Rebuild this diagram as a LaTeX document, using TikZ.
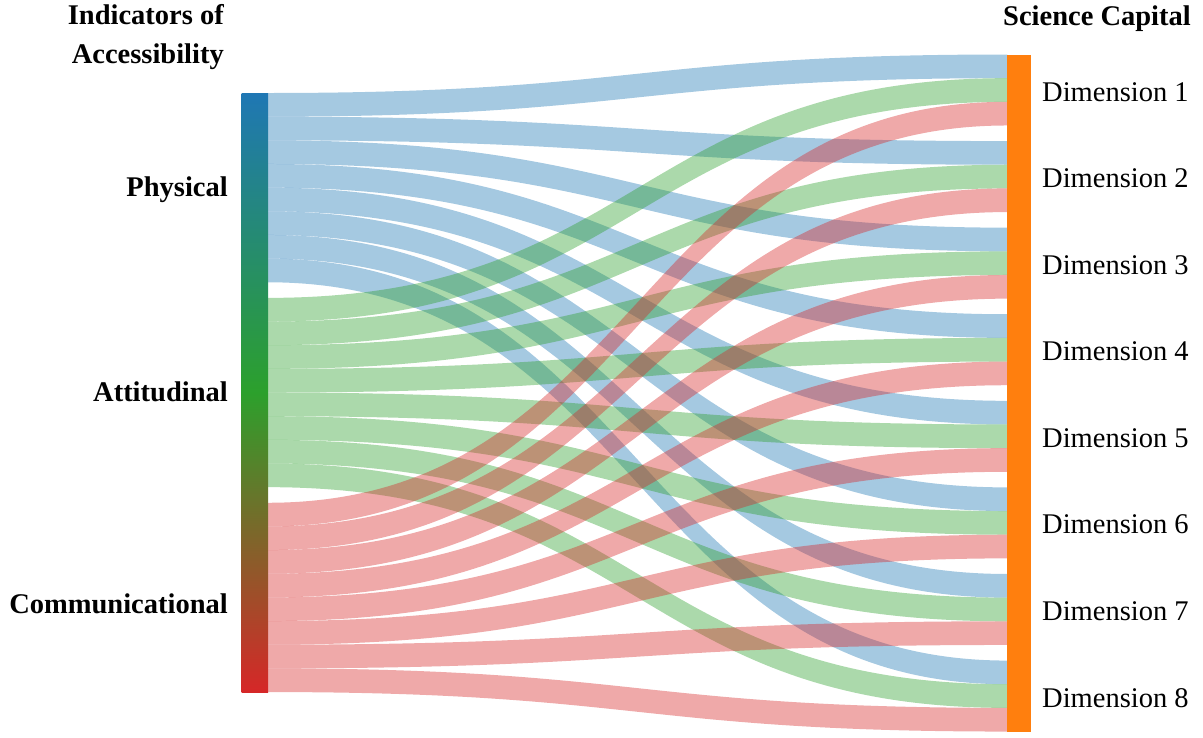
\documentclass[tikz,border=0pt]{standalone}
\usepackage{fontspec}
\setmainfont{Liberation Serif}
\newfontfamily\timesf{Liberation Serif}
\begin{document}
\begin{tikzpicture}[x=1pt,y=-1pt,
  lbl/.style={inner sep=0pt,font=\timesf\fontsize{28.5}{31}\selectfont},
  blbl/.style={inner sep=0pt,font=\timesf\bfseries\fontsize{28.5}{31}\selectfont},
  band/.style={fill opacity=0.4}]
\definecolor{cblue}{RGB}{31,119,180}
\definecolor{cgreen}{RGB}{44,160,44}
\definecolor{cred}{RGB}{214,39,40}
\definecolor{corange}{RGB}{255,127,14}
\useasboundingbox (0,0) rectangle (1203,737);
% links
\foreach \i/\c in {0/cblue,1/cgreen,2/cred}{
  \foreach \j in {0,...,7}{
    \pgfmathsetmacro\yl{93+\i*204.88+\j*23.66}
    \pgfmathsetmacro\yr{54.5+\j*86.58+\i*23.66}
    \pgfmathsetmacro\ylb{\yl+23.66}
    \pgfmathsetmacro\yrb{\yr+23.66}
    \coordinate (s\i\j) at (268,\yl);
    \coordinate (t\i\j) at (1007.3,\yr);
    \fill[band,fill=\c] (s\i\j) .. controls (637.6,\yl) and (637.6,\yr) .. (t\i\j)
      -- (1007.3,\yrb) .. controls (637.6,\yrb) and (637.6,\ylb) .. (268,\ylb) -- cycle;
  }
}
% bars
\shade[top color=cblue,bottom color=cred,middle color=cgreen] (241.5,93) rectangle (268,692);
\fill[corange] (1007.3,54.5) rectangle (1031,731.5);
% labels
\node[blbl,anchor=base east] (ind1) at (224,24) {Indicators of};
\node[blbl,anchor=base east] (ind2) at (224,63) {Accessibility};
\node[blbl,anchor=base east] (sci) at (1191,25) {Science Capital};
\node[blbl,anchor=base east] (phys) at (228,196) {Physical};
\node[blbl,anchor=base east] (att) at (228,401.7) {Attitudinal};
\node[blbl,anchor=base east] (com) at (228,613) {Communicational};
\foreach \k in {1,...,8}{
  \pgfmathsetmacro\yb{101+(\k-1)*86.58}
  \node[lbl,anchor=base west] (dim\k) at (1042,\yb) {Dimension \k};
}
\end{tikzpicture}
\end{document}
